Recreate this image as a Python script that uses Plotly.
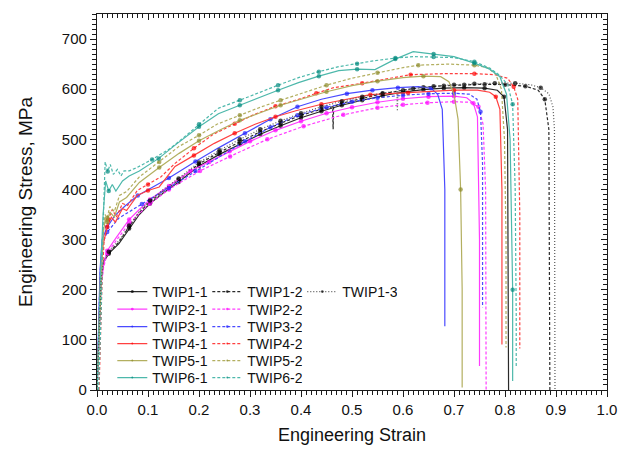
import plotly.graph_objects as go

# ---------------- data (engineering strain, engineering stress MPa) ----------------
twip1_1_x = [0, 0.004, 0.008, 0.013, 0.023, 0.043, 0.063, 0.083, 0.104, 0.13, 0.16, 0.2, 0.24, 0.28, 0.32, 0.36,
             0.40, 0.44, 0.48, 0.52, 0.56, 0.60, 0.64, 0.68, 0.72, 0.76, 0.785, 0.798, 0.805, 0.807]
twip1_1_y = [0, 120, 220, 255, 272, 292, 322, 350, 372, 393, 415, 447, 470, 490, 510, 527,
             543, 556, 568, 578, 587, 594, 599, 602, 603, 602, 598, 585, 520, 0]

twip1_2_x = [0, 0.004, 0.008, 0.013, 0.023, 0.043, 0.063, 0.083, 0.104, 0.13, 0.16, 0.2, 0.24, 0.28, 0.32, 0.36,
             0.40, 0.44, 0.462, 0.463, 0.464, 0.48, 0.52, 0.56, 0.60, 0.64, 0.68, 0.72, 0.76, 0.80, 0.84,
             0.865, 0.878, 0.886, 0.888]
twip1_2_y = [0, 120, 220, 256, 274, 295, 326, 354, 376, 397, 419, 451, 474, 495, 515, 532,
             548, 560, 565, 520, 566, 572, 582, 591, 598, 604, 607, 609, 610, 609, 606,
             598, 580, 520, 0]

twip1_3_x = [0, 0.004, 0.008, 0.013, 0.023, 0.043, 0.063, 0.083, 0.104, 0.13, 0.16, 0.2, 0.24, 0.28, 0.32, 0.36,
             0.40, 0.44, 0.48, 0.52, 0.56, 0.588, 0.589, 0.590, 0.62, 0.66, 0.70, 0.74, 0.78, 0.82, 0.85,
             0.87, 0.886, 0.894, 0.897, 0.898]
twip1_3_y = [0, 120, 220, 258, 276, 298, 328, 356, 378, 400, 422, 454, 478, 500, 520, 537,
             552, 565, 576, 585, 592, 596, 556, 596, 601, 606, 609, 611, 612, 612, 609,
             603, 591, 565, 520, 0]

twip2_1_x = [0, 0.004, 0.008, 0.013, 0.02, 0.039, 0.063, 0.083, 0.104, 0.141, 0.183, 0.22, 0.26, 0.30, 0.35,
             0.40, 0.45, 0.50, 0.55, 0.60, 0.65, 0.70, 0.725, 0.738, 0.746, 0.750, 0.750]
twip2_1_y = [0, 110, 210, 250, 278, 306, 340, 360, 380, 407, 437, 455, 476, 496, 518,
             536, 552, 564, 574, 581, 585, 586, 583, 572, 545, 300, 48]

twip2_2_x = [0, 0.004, 0.008, 0.013, 0.02, 0.039, 0.063, 0.083, 0.104, 0.141, 0.163, 0.202, 0.261, 0.334,
             0.405, 0.483, 0.55, 0.60, 0.648, 0.70, 0.73, 0.748, 0.757, 0.762, 0.763]
twip2_2_y = [0, 105, 205, 245, 272, 300, 332, 352, 372, 400, 414, 437, 466, 500,
             526, 549, 563, 569, 573, 575, 574, 565, 530, 400, 0]

twip3_1_x = [0, 0.003, 0.006, 0.01, 0.02, 0.035, 0.055, 0.08, 0.11, 0.141, 0.193, 0.24, 0.29, 0.34, 0.393,
             0.44, 0.49, 0.54, 0.59, 0.63, 0.655, 0.668, 0.677, 0.682, 0.682]
twip3_1_y = [0, 130, 240, 300, 325, 348, 367, 388, 405, 423, 456, 484, 512, 540, 565,
             580, 591, 598, 603, 605, 602, 590, 560, 400, 127]

twip3_2_x = [0, 0.003, 0.006, 0.01, 0.02, 0.043, 0.088, 0.141, 0.193, 0.24, 0.29, 0.34, 0.393, 0.45, 0.50,
             0.55, 0.60, 0.65, 0.70, 0.73, 0.745, 0.752, 0.756, 0.756]
twip3_2_y = [0, 120, 230, 290, 315, 343, 371, 403, 437, 465, 496, 524, 548, 564, 575,
             583, 588, 591, 592, 590, 580, 555, 450, 165]

twip4_1_x = [0, 0.003, 0.007, 0.012, 0.02, 0.028, 0.036, 0.05, 0.058, 0.079, 0.1, 0.122, 0.153, 0.19, 0.23,
             0.27, 0.31, 0.35, 0.39, 0.44, 0.49, 0.536, 0.61, 0.66, 0.70, 0.746, 0.77, 0.782, 0.79, 0.794, 0.794]
twip4_1_y = [0, 120, 230, 290, 325, 345, 335, 362, 358, 388, 398, 405, 446, 468, 492,
             512, 530, 545, 557, 570, 580, 589, 593, 596, 598, 598, 594, 585, 560, 400, 91]

twip4_2_x = [0.004, 0.007, 0.010, 0.014, 0.022, 0.03, 0.038, 0.05, 0.06, 0.079, 0.1, 0.125, 0.153, 0.19,
             0.228, 0.27, 0.307, 0.35, 0.393, 0.43, 0.464, 0.52, 0.57, 0.615, 0.68, 0.74, 0.78, 0.805,
             0.817, 0.825, 0.829, 0.829]
twip4_2_y = [0, 100, 220, 300, 340, 360, 345, 372, 368, 398, 410, 425, 452, 482,
             510, 531, 549, 566, 579, 592, 603, 612, 621, 629, 631, 631, 629, 622,
             605, 580, 350, 83]

twip5_1_x = [0, 0.004, 0.008, 0.012, 0.016, 0.02, 0.025, 0.034, 0.044, 0.058, 0.083, 0.122, 0.161, 0.2, 0.24,
             0.28, 0.32, 0.36, 0.4, 0.45, 0.5, 0.55, 0.6, 0.64, 0.674, 0.69, 0.70, 0.708, 0.713, 0.716, 0.716]
twip5_1_y = [0, 105, 220, 310, 340, 335, 355, 345, 375, 384, 414, 444, 472, 497, 518,
             538, 553, 568, 580, 595, 607, 616, 623, 626, 625, 615, 590, 540, 400, 200, 5]

twip5_2_x = [0, 0.004, 0.008, 0.012, 0.016, 0.02, 0.025, 0.034, 0.044, 0.058, 0.083, 0.122, 0.161, 0.2, 0.235,
             0.28, 0.32, 0.36, 0.4, 0.45, 0.5, 0.55, 0.6, 0.63, 0.69, 0.74, 0.765, 0.782, 0.793, 0.799,
             0.802, 0.802]
twip5_2_y = [0, 110, 230, 320, 350, 343, 366, 356, 388, 396, 425, 455, 486, 508, 530,
             548, 564, 578, 592, 608, 622, 633, 643, 648, 650, 648, 643, 630, 600, 500,
             300, 85]

twip6_1_x = [0, 0.003, 0.007, 0.012, 0.017, 0.023, 0.03, 0.037, 0.05, 0.063, 0.083, 0.121, 0.155, 0.2, 0.238,
             0.28, 0.317, 0.355, 0.395, 0.435, 0.474, 0.51, 0.545, 0.585, 0.62, 0.66, 0.70, 0.74, 0.77,
             0.79, 0.803, 0.81, 0.815, 0.815]
twip6_1_y = [0, 110, 240, 350, 417, 397, 410, 397, 417, 427, 437, 462, 490, 525, 551,
             568, 583, 598, 613, 626, 637, 640, 639, 660, 675, 670, 665, 652, 640,
             625, 590, 500, 200, 18]

twip6_2_x = [0.003, 0.008, 0.012, 0.015, 0.016, 0.021, 0.026, 0.032, 0.04, 0.047, 0.053, 0.063, 0.079, 0.108,
             0.141, 0.161, 0.2, 0.238, 0.28, 0.317, 0.355, 0.395, 0.435, 0.474, 0.51, 0.545, 0.585, 0.62,
             0.66, 0.70, 0.74, 0.77, 0.788, 0.805, 0.815, 0.82, 0.822, 0.822]
twip6_2_y = [0, 150, 330, 430, 455, 436, 450, 430, 440, 427, 437, 437, 444, 460,
             480, 496, 530, 562, 578, 593, 608, 623, 635, 645, 651, 657, 662, 665,
             664, 663, 655, 642, 629, 610, 570, 400, 150, 48]

x_tick_vals = [0.0, 0.1, 0.2, 0.3, 0.4, 0.5, 0.6, 0.7, 0.8, 0.9, 1.0]
x_tick_text = ["0.0", "0.1", "0.2", "0.3", "0.4", "0.5", "0.6", "0.7", "0.8", "0.9", "1.0"]
y_tick_vals = [0, 100, 200, 300, 400, 500, 600, 700]

# ---------------- styles ----------------
FONT = "Liberation Sans, Arial, sans-serif"
SOLID, DASH, DOT = "solid", "3px,2px", "1px,2px"
series = [
    # name, x, y, line colour, marker colour, dash, marker spacing, legend row, axes
    ("TWIP1-1", twip1_1_x, twip1_1_y, "#2a2a2a", "#000000", SOLID, 0.035, "legend", 1),
    ("TWIP1-2", twip1_2_x, twip1_2_y, "#2a2a2a", "#000000", DASH, 0.035, "legend", 1),
    ("TWIP1-3", twip1_3_x, twip1_3_y, "#555555", "#000000", DOT, 0.035, "legend", 2),
    ("TWIP2-1", twip2_1_x, twip2_1_y, "#ff3cff", "#ff00ff", SOLID, 0.035, "legend2", 1),
    ("TWIP2-2", twip2_2_x, twip2_2_y, "#ff3cff", "#ff00ff", DASH, 0.035, "legend2", 1),
    ("TWIP3-1", twip3_1_x, twip3_1_y, "#4a4aff", "#2020ff", SOLID, 0.05, "legend3", 1),
    ("TWIP3-2", twip3_2_x, twip3_2_y, "#4a4aff", "#2020ff", DASH, 0.05, "legend3", 1),
    ("TWIP4-1", twip4_1_x, twip4_1_y, "#ff4040", "#ff0000", SOLID, 0.075, "legend4", 1),
    ("TWIP4-2", twip4_2_x, twip4_2_y, "#ff4040", "#ff0000", DASH, 0.075, "legend4", 1),
    ("TWIP5-1", twip5_1_x, twip5_1_y, "#b3af60", "#8c8a2a", SOLID, 0.075, "legend5", 1),
    ("TWIP5-2", twip5_2_x, twip5_2_y, "#b3af60", "#8c8a2a", DASH, 0.075, "legend5", 1),
    ("TWIP6-1", twip6_1_x, twip6_1_y, "#4db8ab", "#00897e", SOLID, 0.075, "legend6", 1),
    ("TWIP6-2", twip6_2_x, twip6_2_y, "#4db8ab", "#00897e", DASH, 0.075, "legend6", 1),
]


def marker_sizes(xs, spacing):
    sizes, last = [], None
    for i, xv in enumerate(xs):
        if 0 < i < len(xs) - 1 and xv >= 0.02 and (last is None or xv - last >= spacing * 0.95):
            sizes.append(4.5)
            last = xv
        else:
            sizes.append(0)
    return sizes


fig = go.Figure()
for name, xs, ys, lc, mc, dash, sp, lg, ax in series:
    fig.add_trace(go.Scatter(
        x=xs, y=ys, name=name, mode="lines+markers", legend=lg,
        xaxis="x" if ax == 1 else "x2", yaxis="y" if ax == 1 else "y2",
        line=dict(color=lc, width=1.2, dash=dash),
        marker=dict(color=mc, size=marker_sizes(xs, sp), symbol="circle", line=dict(width=0)),
    ))

axis_font = dict(family=FONT, size=15, color="#111111")
TICK_C = "#1a1a1a"

PLOT_TOP, PLOT_BOTTOM = 14, 390
row_centres = [292, 309.5, 327, 344, 361, 378]
legends = {}
for i, yc in enumerate(row_centres):
    key = "legend" if i == 0 else f"legend{i + 1}"
    legends[key] = dict(
        x=0.03, y=(PLOT_BOTTOM - yc) / (PLOT_BOTTOM - PLOT_TOP), xanchor="left", yanchor="middle",
        orientation="h", bgcolor="rgba(0,0,0,0)", itemwidth=30,
        entrywidth=50, entrywidthmode="pixels",
        font=dict(family=FONT, size=14, color="#111111"),
    )

fig.update_layout(
    width=622, height=450,
    margin=dict(l=97, r=15, t=PLOT_TOP, b=450 - PLOT_BOTTOM, autoexpand=False),
    paper_bgcolor="white", plot_bgcolor="white",
    font=dict(family=FONT),
    showlegend=True,
    **legends,
    xaxis=dict(
        range=[0, 1.0], tickvals=x_tick_vals, ticktext=x_tick_text, automargin=False,
        ticks="outside", ticklen=6, tickwidth=1.2, tickcolor=TICK_C,
        minor=dict(dtick=0.01, ticks="outside", ticklen=4, tickcolor=TICK_C, tickwidth=1),
        showline=True, linecolor=TICK_C, linewidth=1.2, mirror=True,
        showgrid=False, zeroline=False, tickfont=axis_font,
        title=dict(text="Engineering Strain", font=dict(family=FONT, size=18, color="#111111"), standoff=11),
    ),
    yaxis=dict(
        range=[0, 750], tickvals=y_tick_vals, automargin=False,
        ticks="outside", ticklen=6, tickwidth=1.2, tickcolor=TICK_C,
        minor=dict(dtick=10, ticks="outside", ticklen=4, tickcolor=TICK_C, tickwidth=1),
        showline=True, linecolor=TICK_C, linewidth=1.2, mirror=True,
        showgrid=False, zeroline=False, tickfont=axis_font,
        title=dict(text="Engineering Stress, MPa", font=dict(family=FONT, size=19, color="#111111"), standoff=24),
    ),
    xaxis2=dict(
        overlaying="x", side="top", anchor="y2", range=[0, 1.0], tickvals=x_tick_vals, automargin=False,
        showticklabels=False, ticks="inside", ticklen=6, tickwidth=1.2, tickcolor=TICK_C,
        minor=dict(dtick=0.01, ticks="inside", ticklen=4, tickcolor=TICK_C, tickwidth=1),
        showgrid=False, zeroline=False, showline=False,
    ),
    yaxis2=dict(
        overlaying="y", side="right", anchor="x2", range=[0, 750], tickvals=y_tick_vals, automargin=False,
        showticklabels=False, ticks="inside", ticklen=6, tickwidth=1.2, tickcolor=TICK_C,
        minor=dict(dtick=10, ticks="inside", ticklen=4, tickcolor=TICK_C, tickwidth=1),
        showgrid=False, zeroline=False, showline=False,
    ),
)

fig.write_html("out.html")
